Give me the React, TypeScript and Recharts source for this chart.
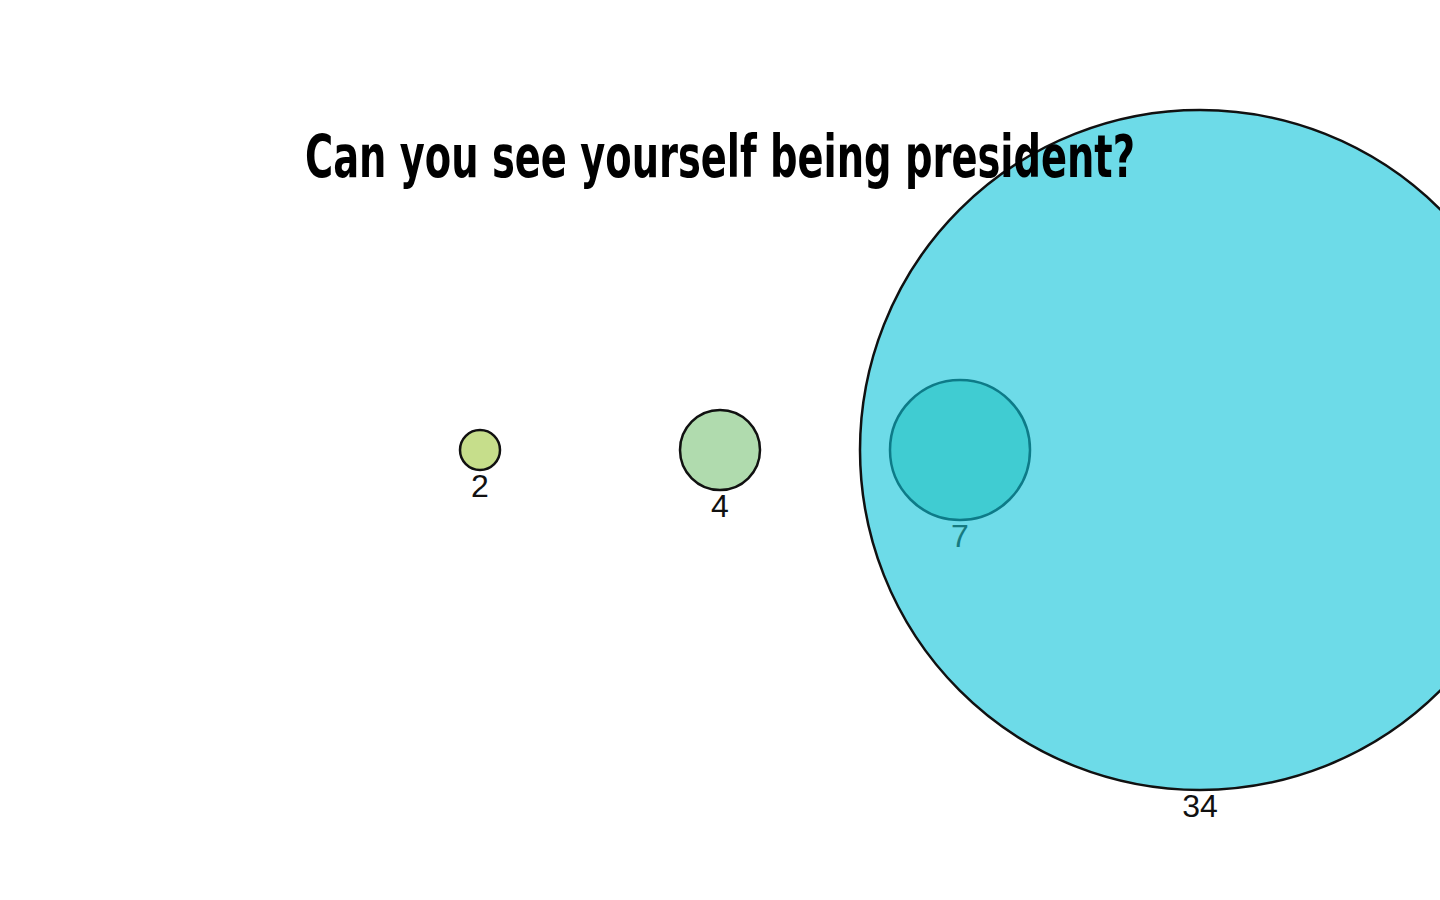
import React from 'react';
import { ScatterChart, Scatter, XAxis, YAxis, ZAxis, LabelList } from 'recharts';

const values = [2, 4, 7, 34];
const positions = [1, 2, 3, 4];
const rows = [1, 1, 1, 1];
const fills = ['#C6DE8B', '#B0DBAE', '#8FDAC8', '#0CC3D9'];
const fillOpacities = [1, 1, 1, 0.6];
const labelFills = ['#111', '#111', '#167A80', '#111'];
const title = 'Can you see yourself being president?';

const W = 1440;
const H = 900;
const maxV = 34;
const maxR = 340;

export default function App() {
  return (
    <div style={{ position: 'absolute', left: 0, top: 0, width: W, height: H, background: '#fff' }}>
      <ScatterChart width={W} height={H} margin={{ top: 0, right: 0, bottom: 0, left: 0 }}>
        <XAxis type="number" dataKey="x" domain={[-1, 5]} hide />
        <YAxis type="number" dataKey="y" domain={[0, 2]} hide />
        <ZAxis type="number" dataKey="area" domain={[0, maxV * maxV]} range={[0, Math.PI * maxR * maxR]} />
        {values.map((v, i) => (
          <Scatter
            key={i}
            data={[{ x: positions[i], y: rows[i], v, area: v * v }]}
            fill={fills[i]}
            fillOpacity={fillOpacities[i]}
            stroke="#111"
            strokeWidth={2.5}
            isAnimationActive={false}
          >
            <LabelList
              dataKey="v"
              position="bottom"
              offset={4}
              fill={labelFills[i]}
              fontSize={32}
              fontFamily="'Liberation Sans', sans-serif"
            />
          </Scatter>
        ))}
      </ScatterChart>
      <svg width={W} height={H} style={{ position: 'absolute', left: 0, top: 0, pointerEvents: 'none' }}>
        <text
          x={720}
          y={177}
          textAnchor="middle"
          fontSize={58}
          fontWeight="bold"
          fontFamily="'DejaVu Sans Condensed', 'DejaVu Sans', sans-serif"
          fill="#000"
          textLength={830}
          lengthAdjust="spacingAndGlyphs"
        >
          {title}
        </text>
      </svg>
    </div>
  );
}
